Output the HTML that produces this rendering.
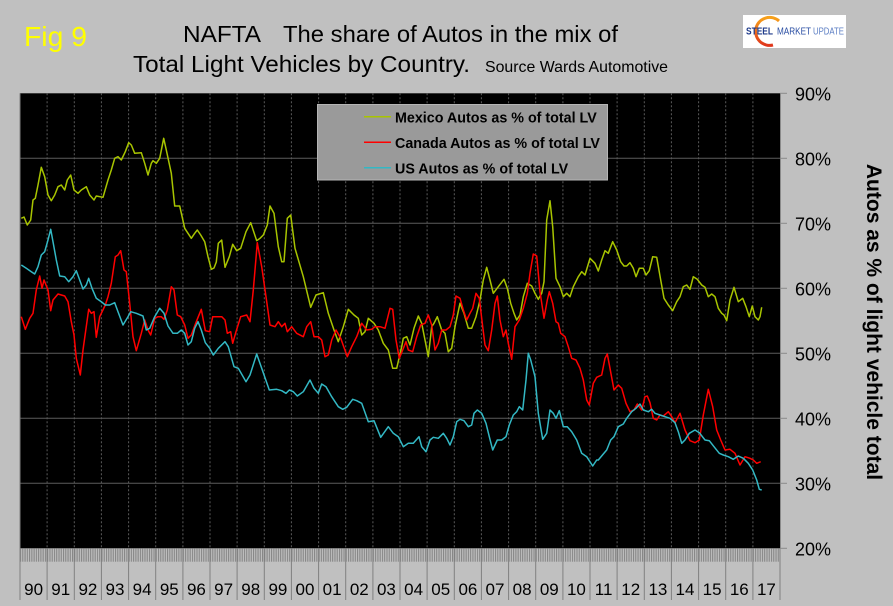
<!DOCTYPE html>
<html>
<head>
<meta charset="utf-8">
<style>
html,body{margin:0;padding:0;background:#c0c0c0;}
svg{display:block;}
text{font-family:"Liberation Sans",Arial,sans-serif;}
</style>
</head>
<body>
<svg width="893" height="606" viewBox="0 0 893 606" xmlns="http://www.w3.org/2000/svg">
<defs>
<pattern id="mt" x="20" y="0" width="2.2619" height="20" patternUnits="userSpaceOnUse">
<rect x="0" y="0" width="1.1" height="20" fill="#858585"/>
</pattern>
<linearGradient id="og" x1="0" y1="0" x2="0" y2="1">
<stop offset="0" stop-color="#f7a21b"/>
<stop offset="1" stop-color="#e0361c"/>
</linearGradient>
</defs>
<rect x="0" y="0" width="893" height="606" fill="#c0c0c0"/>

<!-- Titles -->
<text x="24" y="46" font-size="28" fill="#ffff00" textLength="63" lengthAdjust="spacingAndGlyphs">Fig 9</text>
<text x="183" y="42" font-size="23.5" fill="#000" textLength="78" lengthAdjust="spacingAndGlyphs">NAFTA</text>
<text x="283" y="42" font-size="23.5" fill="#000" textLength="335" lengthAdjust="spacingAndGlyphs">The share of Autos in the mix of</text>
<text x="133" y="72" font-size="23.5" fill="#000" textLength="337" lengthAdjust="spacingAndGlyphs">Total Light Vehicles by Country.</text>
<text x="485" y="72" font-size="16" fill="#000" textLength="183" lengthAdjust="spacingAndGlyphs">Source Wards Automotive</text>

<!-- Logo -->
<rect x="743" y="15" width="103" height="33" fill="#ffffff"/>
<path d="M 779 21 A 14 14 0 1 0 773 45" fill="none" stroke="url(#og)" stroke-width="3"/>
<text x="746" y="34.5" font-size="10" font-weight="bold" fill="#1e3a8a" textLength="27" lengthAdjust="spacingAndGlyphs">STEEL</text>
<text x="777" y="34.5" font-size="10" fill="#2a4ea3" textLength="34" lengthAdjust="spacingAndGlyphs">MARKET</text>
<text x="813" y="34.5" font-size="10" fill="#5d7fc4" textLength="31" lengthAdjust="spacingAndGlyphs">UPDATE</text>

<!-- Plot area -->
<rect x="20" y="93.3" width="760" height="455" fill="#000"/>

<!-- horizontal gridlines -->
<g stroke="#5c5c5c" stroke-width="1">
<line x1="20" y1="158.3" x2="780" y2="158.3"/>
<line x1="20" y1="223.3" x2="780" y2="223.3"/>
<line x1="20" y1="288.3" x2="780" y2="288.3"/>
<line x1="20" y1="353.3" x2="780" y2="353.3"/>
<line x1="20" y1="418.3" x2="780" y2="418.3"/>
<line x1="20" y1="483.3" x2="780" y2="483.3"/>
</g>

<!-- vertical dotted year gridlines -->
<g stroke="#5a5a5a" stroke-width="1" stroke-dasharray="2,2">
<line x1="47.1" y1="93.3" x2="47.1" y2="548.3"/>
<line x1="74.3" y1="93.3" x2="74.3" y2="548.3"/>
<line x1="101.4" y1="93.3" x2="101.4" y2="548.3"/>
<line x1="128.6" y1="93.3" x2="128.6" y2="548.3"/>
<line x1="155.7" y1="93.3" x2="155.7" y2="548.3"/>
<line x1="182.9" y1="93.3" x2="182.9" y2="548.3"/>
<line x1="210" y1="93.3" x2="210" y2="548.3"/>
<line x1="237.1" y1="93.3" x2="237.1" y2="548.3"/>
<line x1="264.3" y1="93.3" x2="264.3" y2="548.3"/>
<line x1="291.4" y1="93.3" x2="291.4" y2="548.3"/>
<line x1="318.6" y1="93.3" x2="318.6" y2="548.3"/>
<line x1="345.7" y1="93.3" x2="345.7" y2="548.3"/>
<line x1="372.9" y1="93.3" x2="372.9" y2="548.3"/>
<line x1="400" y1="93.3" x2="400" y2="548.3"/>
<line x1="427.1" y1="93.3" x2="427.1" y2="548.3"/>
<line x1="454.3" y1="93.3" x2="454.3" y2="548.3"/>
<line x1="481.4" y1="93.3" x2="481.4" y2="548.3"/>
<line x1="508.6" y1="93.3" x2="508.6" y2="548.3"/>
<line x1="535.7" y1="93.3" x2="535.7" y2="548.3"/>
<line x1="562.9" y1="93.3" x2="562.9" y2="548.3"/>
<line x1="590" y1="93.3" x2="590" y2="548.3"/>
<line x1="617.1" y1="93.3" x2="617.1" y2="548.3"/>
<line x1="644.3" y1="93.3" x2="644.3" y2="548.3"/>
<line x1="671.4" y1="93.3" x2="671.4" y2="548.3"/>
<line x1="698.6" y1="93.3" x2="698.6" y2="548.3"/>
<line x1="725.7" y1="93.3" x2="725.7" y2="548.3"/>
<line x1="752.9" y1="93.3" x2="752.9" y2="548.3"/>
</g>

<!-- Legend -->
<rect x="317.5" y="104.5" width="290" height="75.5" fill="#9a9a9a" stroke="#b5b5b5" stroke-width="1"/>
<line x1="364" y1="116.7" x2="391" y2="116.7" stroke="#a8c400" stroke-width="1.5"/>
<line x1="364" y1="142.3" x2="391" y2="142.3" stroke="#ff0000" stroke-width="1.5"/>
<line x1="364" y1="167.7" x2="391" y2="167.7" stroke="#33b8c4" stroke-width="1.5"/>
<text x="395" y="122.3" font-size="14.3" font-weight="bold" fill="#000">Mexico Autos as % of total LV</text>
<text x="395" y="147.8" font-size="14.3" font-weight="bold" fill="#000">Canada Autos as % of total LV</text>
<text x="395" y="173.3" font-size="14.3" font-weight="bold" fill="#000">US Autos as % of total LV</text>

<!-- Series -->
<g fill="none" stroke-width="1.5" stroke-linejoin="round">
<polyline stroke="#a8c400" points="21.3,218.3 24,217 27.3,225 30.7,220 33,200 35.3,198.3 38,185 41.3,167.3 44.7,176.7 48,195 51.3,200.7 54.7,195 58,186.7 61.3,185 64.7,190 67.3,180 70.7,175 74,190 78,193.3 81.3,190 86.3,186.7 89.7,195 94,200 96.3,196 103,197.3 108,180 111.3,170 114.7,158.3 118,156.7 121.3,160 125.3,151.7 128.7,142.7 131.3,145 134.7,153.3 141.3,152.7 144.7,163.3 148,175 151.3,163.3 153,160.7 156.3,163.3 159.7,158.3 163.7,138.3 166.3,150 171.3,173.3 174.7,206 179.7,206 184.7,228.3 191.3,238.3 194.7,233.3 197.3,230 200.7,235 204.7,241.7 208,256.7 211.3,269.3 214,268 216.3,262 218.3,243.3 221.7,240 225,267.3 229.3,256.7 232.7,244.3 236.7,250.7 240.7,248.3 246,231.7 250.7,222.7 256.7,240.7 260,238.3 263.3,235 267.3,225 270,206 274,213.3 278.3,246.7 281.7,261.7 284,261.7 287.3,218.3 290.7,215 295,248.3 303.3,276.7 310.7,307.3 316,295 323.3,292.7 328.3,313.3 334,330 338.3,341.7 343.3,326.7 348.3,309.3 354,315 358.3,318.3 361.7,335 365,331.7 368.3,318.3 374,323.3 378.3,330 383.3,343.3 388.3,350 392.7,368.3 396.7,368.3 401.7,346.7 403.3,338.3 406.7,336.7 410,345 414,328.3 418.3,316 421.7,323.3 425,340 428.3,356.7 431.7,326.7 434,323.3 437.3,316.7 441.7,330 445,333.3 448.3,351.7 451.7,348.3 455,326.7 460,303.3 464,313.3 468.3,328.3 471.7,328.3 476,316.7 480,300 483.3,280 486.7,267.3 490,280 493.3,293.3 498.3,286.7 504,279.3 507.3,288.3 510.7,303.3 514,313.3 516.7,320 520,315 523.3,296.7 527.3,283.3 531.7,286 535,293.3 538.3,299.3 541.7,293.3 544,281.7 546.7,220 550,200.7 552.7,226.7 556,278.3 560,286.7 563.3,296.7 566.7,293.3 570,296.7 573.3,286.7 578.3,276.7 581.7,271.7 585,275 590,258.3 595,263.3 598.3,271 601.7,260 605,250.7 608.3,253.3 612.7,241.7 616.7,250 620.7,261.7 624,266 626.7,266 630,262.7 633.3,268.3 636,276.7 639.3,268.3 643.3,268.3 646,275 649.3,270.7 652.7,256.7 656.7,257.3 660.7,280 664,298.3 668.3,305 672.7,310.7 676.7,301.7 680,296.7 683.3,286.7 686.7,285 690,289.3 693.3,276.7 697.3,279.3 701.7,285 705,287.3 708.3,296.7 711.7,294 715,296.7 718.3,308.3 721.7,313.3 724,315 726.7,320.7 730,300 734,287.3 738.3,301.7 742.7,298.3 746,306.7 749.3,316.7 752.3,306 755,316.7 758.3,320 760,316.7 761.7,307.3"/>
<polyline stroke="#ff0000" points="21.3,316.7 25.3,329.3 29.7,318.3 33,313.3 36.3,290 39.7,276 42,288.3 44,280 48,290 50.7,310.7 53,300 58,294 64.7,296 68,301.7 71.3,321.7 74,335 76.3,358.3 80.3,375 83,350 88.7,309.3 91.3,313.3 94,311.7 96.3,337.3 99.7,316.7 105.3,305 108,296.7 111.3,283.3 115.3,256.7 118,255 120.7,250.7 124,270 126.3,271.7 129.7,303.3 133,336.7 136.3,350.7 141.3,333.3 144.7,320 148,330 150.7,335 154.7,318.3 158,316.7 161.3,316.7 164,319.3 167.3,310 171.3,286.7 174,290 177.3,315 180.7,316.7 184.7,325 188,338.3 191.3,335 196.3,321.7 201.3,309.3 205.3,330.7 209.7,331.7 212.7,316.7 216.7,316.7 221.7,316.7 225,320 227.3,333.3 230.7,331.7 232.7,343.3 236,331.7 240.7,316.7 246.7,315 250,321.7 253.3,290 257.3,242.7 261.7,266.7 266,296.7 270,325 275,326.7 278.3,321.7 281.7,326.7 285,323.3 287.3,331.7 291.7,326.7 296.7,333.3 303.3,336.7 306.7,326.7 310.7,321.7 314,336.7 318.3,336.7 321.7,340 325,356.7 328.3,355 331.7,340 336,330 340.7,338.3 347.3,356.7 351.7,346.7 356.7,336.7 361.7,323.3 366.7,330 371.7,329.3 375,326.7 380,326.7 385,328.3 390,308.3 392.7,309.3 396,340 399.3,358.3 402.7,350 406,341.7 408.3,350 412.7,351.7 416.7,336.7 420.7,325 425,323.3 428.3,315 431.7,325 435,350 438.3,343.3 441.7,330 446,330 450,326.7 453.3,315 456,296 460,298.3 463.3,310 466.7,320 470,313.3 472.7,308.3 476,293.3 479.3,298.3 482.7,326.7 485,345 488.3,350.7 491.7,330 495,303.3 497.3,296 500,320 503.3,336.7 506,330 508.3,343.3 511.7,359.3 515,326.7 519.3,320 523.3,308.3 527.3,293.3 530,273.3 533.3,254 536.7,256 540,291.7 544,318.3 547.3,300 549.3,291.7 552.7,303.3 556,321.7 558.3,323.3 560.7,333.3 565,336.7 568.3,346.7 571.7,358.3 576,360 580,368.3 583.3,380 586.7,400 589.3,405 593.3,383.3 596.7,377.3 601.7,375 605,358.3 607.3,354 610,368.3 614,390 618.3,385 621.7,388.3 626,403.3 630,411.7 634,410 637.3,404 641.7,410 645,396.7 647.3,396 650,402.7 653.3,418.3 656.7,420 660,415 663.3,416 668.3,411.7 671.7,416.7 675,422.7 680,413.3 685,430 690,440.7 695,442.7 699.3,440 703.3,415 708.3,389.3 712.7,406.7 716.7,430 720.7,440 725,450 730,449.3 735,453.3 740,465 745,456.7 750,458.3 753.3,460 756.7,463.3 760.7,461.7"/>
<polyline stroke="#33b8c4" points="21.3,265 26.3,268.3 31.3,271.7 34.7,274 38,266.7 41.3,255 44.7,251.7 48,240 50.7,229.3 53,241.7 56.3,260 59.7,276 64.7,276.7 68.7,281.7 73,276.7 76.3,270.7 79.7,280 83,289 86.3,285 88.7,278.3 92,288.3 96.3,298.3 101.3,301.7 105.3,305 109.7,305 114.7,302.7 118,311.7 123,325 128,316.7 130.7,311.7 136.3,313.3 143,316 146.3,330 149.7,328.3 154.7,316.7 159.7,308.3 164,313.3 168,326 173,333.3 177.3,333.3 181.3,330 184.7,333.3 188,345 191.3,341.7 194.7,328.3 198,321.7 201.3,330 205.3,342.7 209.7,348.3 213.3,355 218.3,348.3 225,341.7 228.3,346.7 234,366.7 238.3,368.3 246,381.7 250,375 256.7,354 261.7,368.3 269.3,390 276.7,389.3 281.7,390.7 286,393.3 289.3,390 293.3,391.7 297.3,396 303.3,391.7 310,380 314,388.3 318.3,393.3 321.7,384 326,386.7 331.7,396.7 338.3,406.7 342.7,409.3 346.7,407.3 352.7,399.3 356.7,400.7 361.7,403.3 368.3,421.7 374,420.7 380.7,437.3 388.3,426.7 393.3,433.3 398.3,436.7 403.3,446.7 408.3,443.3 413.3,443.3 419,436.7 421.7,446.7 426,451.7 430,440 433.3,437.3 438.3,438.3 443.3,433.3 446.7,438.3 450,445 453.3,436.7 456.7,421.7 460,419.3 464,420.7 468.3,426.7 471.7,425 474,413.3 477.3,410 481.7,413.3 486,423.3 489.3,436.7 492.7,450 497.3,440 501.7,440 506,436.7 509.3,425 513.3,415 516.7,411.7 519.3,406.7 522.7,410 526,380 528.3,353.3 530.7,360 535,376.7 538.3,413.3 542.7,439.3 546.7,433.3 550,410 553.3,413.3 556,418.3 559.3,410.7 563.3,426.7 567.3,426.7 571.7,431.7 576.7,440 581.7,453.3 586.7,456.7 592.7,466 596.7,460 598.3,460 603.3,454 606.7,450 610.7,440 614,436.7 618.3,426.7 623.3,424 626.7,418.3 631.7,411.7 636,408.3 640,404 643.3,410 648.3,411.7 651.7,409.3 655,413.3 660,415 665,416.7 670,418.3 675,422.7 678.3,431.7 681.7,443.3 685,440 689.3,433.3 695,430 699.3,432.7 705,440 709.3,440.7 714,446.7 719.3,453.3 723.3,455 728.3,456.7 733.3,459.3 738.3,456 743.3,458.3 748.3,463.3 752.7,470 756.7,480 759.3,489.3 761.7,490"/>
</g>

<!-- Right axis -->
<line x1="780.5" y1="93.3" x2="780.5" y2="548.3" stroke="#8a8a8a" stroke-width="1"/>
<g stroke="#8a8a8a" stroke-width="1">
<line x1="780" y1="93.3" x2="787" y2="93.3"/>
<line x1="780" y1="158.3" x2="787" y2="158.3"/>
<line x1="780" y1="223.3" x2="787" y2="223.3"/>
<line x1="780" y1="288.3" x2="787" y2="288.3"/>
<line x1="780" y1="353.3" x2="787" y2="353.3"/>
<line x1="780" y1="418.3" x2="787" y2="418.3"/>
<line x1="780" y1="483.3" x2="787" y2="483.3"/>
<line x1="780" y1="548.3" x2="787" y2="548.3"/>
</g>
<g font-size="18" fill="#000">
<text x="795" y="100.5">90%</text>
<text x="795" y="165.5">80%</text>
<text x="795" y="230.5">70%</text>
<text x="795" y="295.5">60%</text>
<text x="795" y="360.5">50%</text>
<text x="795" y="425.5">40%</text>
<text x="795" y="490.5">30%</text>
<text x="795" y="555.5">20%</text>
</g>
<text transform="translate(867,322) rotate(90)" text-anchor="middle" font-size="21" font-weight="bold" fill="#000">Autos as % of light vehicle total</text>

<!-- Bottom tick band -->
<rect x="20" y="548.3" width="760" height="13.4" fill="url(#mt)"/>
<g stroke="#808080" stroke-width="1">
<line x1="20" y1="93.3" x2="20" y2="600"/>
<line x1="47.1" y1="548.3" x2="47.1" y2="600"/>
<line x1="74.3" y1="548.3" x2="74.3" y2="600"/>
<line x1="101.4" y1="548.3" x2="101.4" y2="600"/>
<line x1="128.6" y1="548.3" x2="128.6" y2="600"/>
<line x1="155.7" y1="548.3" x2="155.7" y2="600"/>
<line x1="182.9" y1="548.3" x2="182.9" y2="600"/>
<line x1="210" y1="548.3" x2="210" y2="600"/>
<line x1="237.1" y1="548.3" x2="237.1" y2="600"/>
<line x1="264.3" y1="548.3" x2="264.3" y2="600"/>
<line x1="291.4" y1="548.3" x2="291.4" y2="600"/>
<line x1="318.6" y1="548.3" x2="318.6" y2="600"/>
<line x1="345.7" y1="548.3" x2="345.7" y2="600"/>
<line x1="372.9" y1="548.3" x2="372.9" y2="600"/>
<line x1="400" y1="548.3" x2="400" y2="600"/>
<line x1="427.1" y1="548.3" x2="427.1" y2="600"/>
<line x1="454.3" y1="548.3" x2="454.3" y2="600"/>
<line x1="481.4" y1="548.3" x2="481.4" y2="600"/>
<line x1="508.6" y1="548.3" x2="508.6" y2="600"/>
<line x1="535.7" y1="548.3" x2="535.7" y2="600"/>
<line x1="562.9" y1="548.3" x2="562.9" y2="600"/>
<line x1="590" y1="548.3" x2="590" y2="600"/>
<line x1="617.1" y1="548.3" x2="617.1" y2="600"/>
<line x1="644.3" y1="548.3" x2="644.3" y2="600"/>
<line x1="671.4" y1="548.3" x2="671.4" y2="600"/>
<line x1="698.6" y1="548.3" x2="698.6" y2="600"/>
<line x1="725.7" y1="548.3" x2="725.7" y2="600"/>
<line x1="752.9" y1="548.3" x2="752.9" y2="600"/>
<line x1="780" y1="548.3" x2="780" y2="600"/>
</g>
<g font-size="17" fill="#000" text-anchor="middle">
<text x="33.6" y="595">90</text>
<text x="60.7" y="595">91</text>
<text x="87.9" y="595">92</text>
<text x="115" y="595">93</text>
<text x="142.1" y="595">94</text>
<text x="169.3" y="595">95</text>
<text x="196.4" y="595">96</text>
<text x="223.6" y="595">97</text>
<text x="250.7" y="595">98</text>
<text x="277.9" y="595">99</text>
<text x="305" y="595">00</text>
<text x="332.1" y="595">01</text>
<text x="359.3" y="595">02</text>
<text x="386.4" y="595">03</text>
<text x="413.6" y="595">04</text>
<text x="440.7" y="595">05</text>
<text x="467.9" y="595">06</text>
<text x="495" y="595">07</text>
<text x="522.1" y="595">08</text>
<text x="549.3" y="595">09</text>
<text x="576.4" y="595">10</text>
<text x="603.6" y="595">11</text>
<text x="630.7" y="595">12</text>
<text x="657.9" y="595">13</text>
<text x="685" y="595">14</text>
<text x="712.1" y="595">15</text>
<text x="739.3" y="595">16</text>
<text x="766.4" y="595">17</text>
</g>
</svg>
</body>
</html>
